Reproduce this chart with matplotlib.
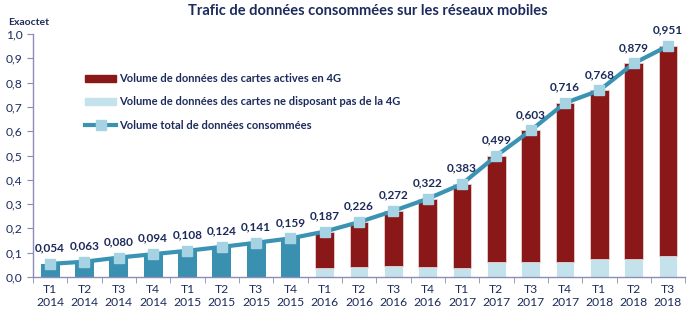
import numpy as np
import matplotlib.pyplot as plt
from matplotlib.patches import Patch
from matplotlib.lines import Line2D

plt.rcParams['font.family'] = ['Lato', 'DejaVu Sans']

# Quarters and totals (Exaoctet)
quarters = ["T1", "T2", "T3", "T4", "T1", "T2", "T3", "T4", "T1", "T2", "T3",
            "T4", "T1", "T2", "T3", "T4", "T1", "T2", "T3"]
years = ["2014"] * 4 + ["2015"] * 4 + ["2016"] * 4 + ["2017"] * 4 + ["2018"] * 3
totals = [0.054, 0.063, 0.080, 0.094, 0.108, 0.124, 0.141, 0.159, 0.187, 0.226,
          0.272, 0.322, 0.383, 0.499, 0.603, 0.716, 0.768, 0.879, 0.951]
# split available from T1 2016 onwards: cards without 4G
n_unsplit = 8
non_4g = [0.039, 0.041, 0.044, 0.041, 0.038, 0.062, 0.062, 0.060, 0.076, 0.073, 0.085]

navy = "#1C2B5C"
teal = "#3A90B0"
red = "#8B1818"
light = "#C4E2EC"
marker_c = "#A6D3E3"

x = np.arange(len(totals))
totals = np.array(totals)
width = 0.55

fig = plt.figure(figsize=(6.97, 3.23), dpi=100)
ax = fig.add_axes([0.0473, 0.1424, 0.9357, 0.7523])

# early quarters: single bar
ax.bar(x[:n_unsplit], totals[:n_unsplit], width, color=teal, zorder=2)
# later quarters: stacked non-4G + 4G
xs = x[n_unsplit:]
nb = np.array(non_4g)
ax.bar(xs, nb, width, color=light, edgecolor="white", linewidth=0.6, zorder=2)
ax.bar(xs, totals[n_unsplit:] - nb, width, bottom=nb, color=red,
       edgecolor="#E8D0D0", linewidth=0.6, zorder=2)

ax.plot(x, totals, color="#3B93B4", lw=3.0, marker="s", ms=7.2,
        mfc=marker_c, mec=marker_c, zorder=3)

for xi, v in zip(x, totals):
    ax.annotate(f"{v:.3f}".replace(".", ","), (xi, v), xytext=(0, 7.5),
                textcoords="offset points", ha="center", va="bottom",
                fontsize=8.5, fontweight="bold", color=navy, zorder=4)

ax.set_xlim(-0.5, len(totals) - 0.5)
ax.set_ylim(0, 1.0)
ax.set_yticks(np.arange(0, 1.01, 0.1))
ax.set_yticklabels([f"{t:.1f}".replace(".", ",") for t in np.arange(0, 1.01, 0.1)])
ax.set_xticks(x)
ax.set_xticklabels([f"{q}\n{y}" for q, y in zip(quarters, years)])
ax.set_xticks(np.arange(-0.5, len(totals)), minor=True)
ax.tick_params(axis="x", which="major", length=0, pad=5, labelsize=8.7,
               labelcolor=navy)
ax.tick_params(axis="x", which="minor", length=4, color="#8C8CB4", direction="out")
ax.tick_params(axis="y", length=4, color="#8C8CB4", labelsize=8.7, labelcolor=navy)

for s in ("top", "right"):
    ax.spines[s].set_visible(False)
for s in ("left", "bottom"):
    ax.spines[s].set_color("#8C8CB4")
    ax.spines[s].set_linewidth(1.0)

handles = [
    Patch(color=red, label="Volume de données des cartes actives en 4G"),
    Patch(color=light, label="Volume de données des cartes ne disposant pas de la 4G"),
    Line2D([], [], color="#3B93B4", lw=3.0, marker="s", ms=6.5, mfc=marker_c,
           mec=marker_c, label="Volume total de données consommées"),
]
leg = ax.legend(handles=handles, loc="upper left", bbox_to_anchor=(0.065, 0.88),
                frameon=False, handlelength=2.8, handleheight=0.6,
                labelspacing=1.1, handletextpad=0.2,
                prop={"size": 8, "weight": "bold"})
for t in leg.get_texts():
    t.set_color(navy)

fig.text(0.527, 0.965, "Trafic de données consommées sur les réseaux mobiles",
         ha="center", va="center", fontsize=10.5, fontweight="bold", color=navy)
fig.text(0.012, 0.93, "Exaoctet", ha="left", va="center", fontsize=7.5,
         fontweight="bold", color=navy)

fig.savefig("out.png", dpi=100)
